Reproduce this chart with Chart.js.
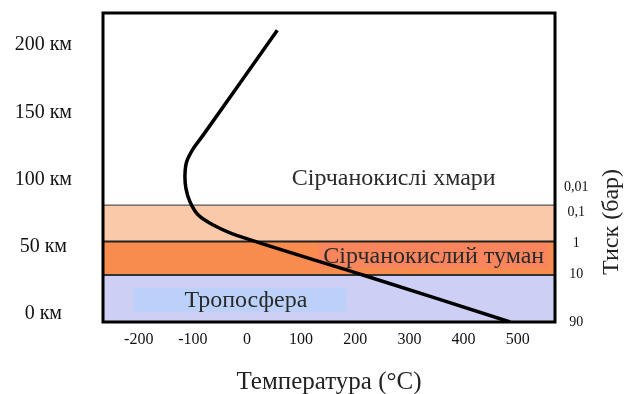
<!DOCTYPE html>
<html>
<head>
<meta charset="utf-8">
<script src="https://cdn.jsdelivr.net/npm/chart.js@4"></script>
<style>
  html, body { margin: 0; padding: 0; background: #fff; }
  #wrap { width: 627px; height: 394px; }
</style>
</head>
<body>
<div id="wrap"><canvas id="venusChart"></canvas></div>
<script>
// temperature profile of the atmosphere (°C, km)
const profileTemp = [56, -81, -99, -111.5, -114.6, -112.8, -105.4, -90, -62.3, -19, 214, 486];
const profileAlt = [211.2, 133.1, 123.2, 113.2, 103.3, 93.5, 83.5, 73.6, 66.2, 58.5, 29, -6];

// axis ticks
const tempTicks = [-200, -100, 0, 100, 200, 300, 400, 500];
const altTicks = [0, 50, 100, 150, 200];
const pressureLabels = ['0,01', '0,1', '1', '10', '90'];
const pressureAlt = [94.4, 76, 52.8, 29.7, -6];

// layers (km)
const bandBottom = [-6, 29, 54];
const bandTop = [29, 54, 81];
const bandColors = ['#cdcff4', '#f88b4e', '#f9c9aa'];
const bandLines = ['#333333', '#222222', '#555555'];

// label boxes (°C, km): troposphere, sulphuric haze
const boxTemp = [[-210, 183], [131, 556]];
const boxAlt = [[1.7, 19.1], [34.2, 52.8]];
const boxColors = ['#bcd1f9', '#f8855e'];

const xMin = -266, xMax = 569, yMin = -6, yMax = 224;
const serif = "'Liberation Serif', 'Times New Roman', serif";

const labels = [
    { text: 'Сірчанокислі хмари', x: 271, y: 101 },
    { text: 'Сірчанокислий туман', x: 345, y: 42.6 },
    { text: 'Тропосфера', x: -2, y: 9.9 }
];

const datasets = [{
    label: 'Температура',
    data: profileTemp.map((t, i) => ({ x: t, y: profileAlt[i] })),
    showLine: true,
    borderColor: '#000',
    borderWidth: 3.5,
    pointRadius: 0,
    tension: 0.35,
    fill: false,
    order: 0
}];

boxTemp.forEach((tt, i) => {
    datasets.push({
        label: 'box' + i,
        data: tt.map(t => ({ x: t, y: boxAlt[i][1] })),
        showLine: true,
        borderWidth: 0,
        pointRadius: 0,
        backgroundColor: boxColors[i],
        fill: { value: boxAlt[i][0] },
        order: 1
    });
});

bandTop.forEach((top, i) => {
    datasets.push({
        label: 'band' + i,
        data: [{ x: xMin, y: top }, { x: xMax, y: top }],
        showLine: true,
        borderColor: bandLines[i],
        borderWidth: i === 2 ? 1.2 : 2,
        pointRadius: 0,
        backgroundColor: bandColors[i],
        fill: { value: bandBottom[i] },
        order: 2
    });
});

const decorPlugin = {
    id: 'decor',
    afterDatasetsDraw(chart) {
        const { ctx, chartArea: a, scales } = chart;
        ctx.save();
        ctx.fillStyle = '#2a2a2a';
        ctx.font = '24px ' + serif;
        ctx.textAlign = 'center';
        ctx.textBaseline = 'middle';
        labels.forEach(l => {
            ctx.fillText(l.text, scales.x.getPixelForValue(l.x), scales.y.getPixelForValue(l.y));
        });
        // frame
        ctx.strokeStyle = '#000';
        ctx.lineWidth = 3;
        ctx.strokeRect(a.left, a.top, a.right - a.left, a.bottom - a.top);
        // right axis title
        ctx.translate(612, 222);
        ctx.rotate(-Math.PI / 2);
        ctx.fillStyle = '#222';
        ctx.font = '24px ' + serif;
        ctx.fillText('Тиск (бар)', 0, 0);
        ctx.restore();
    }
};

// keep the plot box where the reference has it
const noPad = s => { s.paddingTop = 0; s.paddingBottom = 0; s.paddingLeft = 0; s.paddingRight = 0; };

new Chart(document.getElementById('venusChart'), {
    type: 'scatter',
    data: { datasets },
    options: {
        responsive: true,
        maintainAspectRatio: false,
        animation: false,
        layout: { padding: { top: 13, left: 0, right: 0, bottom: 0 } },
        plugins: {
            legend: { display: false },
            tooltip: { enabled: false }
        },
        scales: {
            x: {
                type: 'linear',
                min: xMin,
                max: xMax,
                afterBuildTicks: s => { s.ticks = tempTicks.map(v => ({ value: v })); },
                afterFit: s => { s.height = 72; noPad(s); },
                grid: { display: false, drawTicks: false },
                border: { display: false },
                ticks: { color: '#111', padding: 8, font: { family: serif, size: 16 } },
                title: {
                    display: true,
                    text: 'Температура (°C)',
                    color: '#222',
                    padding: { top: 0, bottom: -3 },
                    font: { family: serif, size: 25 }
                }
            },
            y: {
                type: 'linear',
                min: yMin,
                max: yMax,
                afterBuildTicks: s => { s.ticks = altTicks.map(v => ({ value: v })); },
                afterFit: s => { s.width = 103; noPad(s); },
                grid: { display: false, drawTicks: false },
                border: { display: false },
                ticks: {
                    color: '#111',
                    padding: 31,
                    crossAlign: 'center',
                    font: { family: serif, size: 20 },
                    callback: v => v + ' км'
                }
            },
            y2: {
                type: 'linear',
                position: 'right',
                min: yMin,
                max: yMax,
                afterBuildTicks: s => { s.ticks = pressureAlt.map(v => ({ value: v })); },
                afterFit: s => { s.width = 72; noPad(s); },
                grid: { display: false, drawTicks: false },
                border: { display: false },
                ticks: {
                    color: '#111',
                    padding: 9,
                    crossAlign: 'center',
                    font: { family: serif, size: 14 },
                    callback: (v, i) => pressureLabels[i]
                }
            }
        }
    },
    plugins: [decorPlugin]
});
</script>
</body>
</html>
